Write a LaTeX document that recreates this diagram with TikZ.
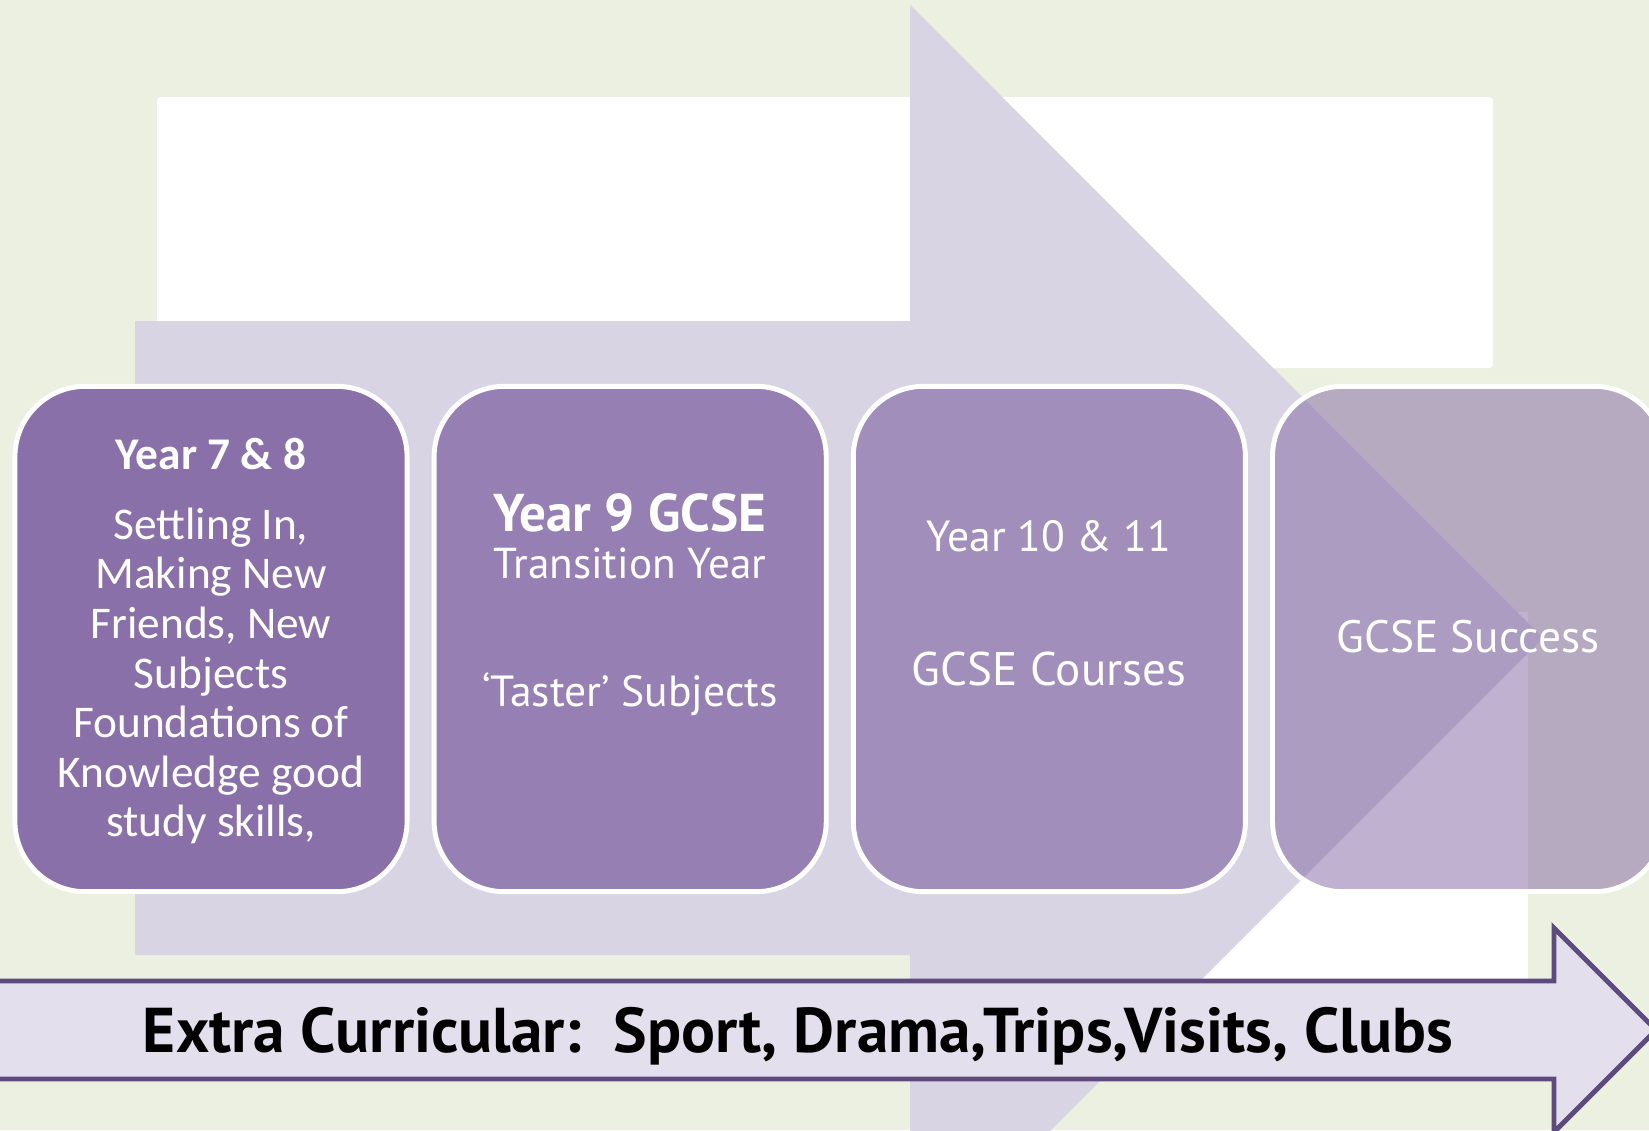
\documentclass[tikz,border=0pt]{standalone}
\usepackage{fontspec}
\setmainfont{Carlito}
\newfontfamily\gill{PT Sans}
\usetikzlibrary{positioning}
\definecolor{bggreen}{RGB}{235,240,224}
\definecolor{lavender}{RGB}{216,212,227}
\definecolor{purpleA}{RGB}{137,112,168}
\definecolor{purpleB}{RGB}{150,127,179}
\definecolor{purpleC}{RGB}{161,142,186}
\definecolor{purpleD}{RGB}{129,101,161}
\definecolor{bandfill}{RGB}{228,223,236}
\definecolor{bandline}{RGB}{94,74,124}
\tikzset{yearbox/.style={draw=white,line width=1.4pt,rounded corners=20pt,
        minimum width=111.5pt,minimum height=143.7pt,inner sep=0pt}}
\tikzset{boxtext/.style={text=white,inner sep=0pt,align=center}}

\begin{document}
\begin{tikzpicture}[x=0.01cm,y=-0.01cm,node distance=6.3pt]
    \useasboundingbox (0,0) rectangle (1649,1130);
    \clip (0,0) rectangle (1649,1130);
    \fill[bggreen] (0,0) rectangle (1649,1130);
    \fill[white,rounded corners=1pt] (157,97) rectangle (1493,368);
    \fill[white] (1100,612) rectangle (1528,1000);
    % big arrow behind the years
    \fill[lavender] (135,321) -- (910,321) -- (910,5) -- (1543,638)
        -- (910,1271) -- (910,955) -- (135,955) -- cycle;
    \node[yearbox,fill=purpleA] (b1) at (211,639) {};
    \node[yearbox,fill=purpleB] (b2) [right=of b1] {};
    \node[yearbox,fill=purpleC] (b3) [right=of b2] {};
    \node[yearbox,fill=purpleD,fill opacity=0.5] (b4) [right=of b3] {};
    \node[boxtext,font=\bfseries\fontsize{12.9}{13}\selectfont] (y78) at (211,454) {Year 7 \& 8};
    \node[boxtext,font=\fontsize{12.9}{14.1}\selectfont] (y78txt) at (211,676)
        {Settling In,\\Making New\\Friends, New\\Subjects\\Foundations of\\Knowledge good\\study skills,};
    \node[boxtext,font=\gill\bfseries\fontsize{15.1}{15.1}\selectfont] (y9) at (630,513) {Year 9 GCSE};
    \node[boxtext,font=\gill\fontsize{12.3}{12.3}\selectfont] (y9a) at (630,563) {Transition Year};
    \node[boxtext,font=\gill\fontsize{12.4}{12.4}\selectfont] (y9b) at (630,694) {‘Taster’ Subjects};
    \node[boxtext,font=\gill\fontsize{12.4}{12.4}\selectfont] (y1011) at (1049,536) {Year 10 \& 11};
    \node[boxtext,font=\gill\fontsize{13.4}{13.4}\selectfont] (y1011b) at (1049,669) {GCSE Courses};
    \node[boxtext,font=\gill\fontsize{12.9}{12.9}\selectfont] (succ) at (1468,637) {GCSE Success};
    % extra curricular band
    \draw[bandline,fill=bandfill,line width=1.4pt] (-20,981) -- (1554,981) -- (1554,928)
        -- (1656,1030) -- (1554,1132) -- (1554,1079) -- (-20,1079) -- cycle;
    \node[inner sep=0pt,font=\gill\bfseries\fontsize{18}{18}\selectfont] (extra) at (798,1036)
        {Extra Curricular:\ \ Sport, Drama,Trips,Visits, Clubs};
\end{tikzpicture}
\end{document}
